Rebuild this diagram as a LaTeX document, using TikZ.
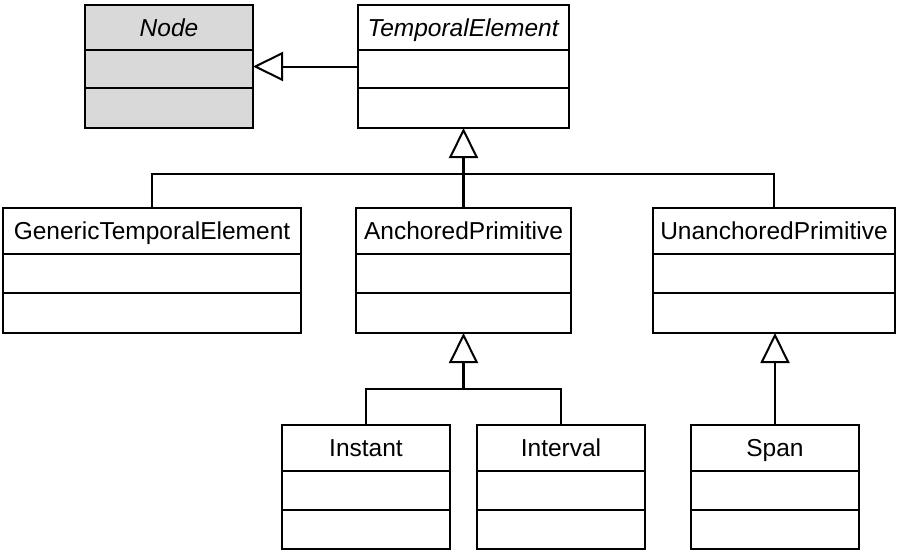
\documentclass[tikz,border=0pt]{standalone}
\usepackage{fontspec}
\setmainfont{Liberation Sans}
\usetikzlibrary{arrows.meta,calc}
\definecolor{nodegray}{HTML}{D9D9D9}
\tikzset{
  classbox/.style={draw, line width=2.5pt, rectangle, inner sep=0pt, outer sep=0pt, anchor=north west},
  abstractfill/.style={fill=nodegray},
  sepline/.style={line width=2pt},
  lbl/.style={anchor=base, inner sep=0pt, font=\fontsize{24.5}{29}\selectfont},
  gen/.style={line width=2pt, -{Triangle[open, length=30pt, width=29pt, line width=2pt]}},
  wire/.style={line width=2pt},
  trunk/.style={line width=2.8pt},
}
\newcommand{\umlclass}[9]{%
  \node[classbox, minimum width=#4pt, minimum height=#5pt, #9] (#1) at (#2,#3) {};
  \draw[sepline] ($(#1.north west)+(0,#6)$) -- ($(#1.north east)+(0,#6)$);
  \draw[sepline] ($(#1.north west)+(0,#7)$) -- ($(#1.north east)+(0,#7)$);
  \node[lbl] (#1-name) at ($(#1.north)+(0,{#6/2+8.5})$) {#8};
}
\begin{document}
\begin{tikzpicture}[x=1pt,y=-1pt]
\fill[white] (0,0) rectangle (900,552);
\useasboundingbox (0,0) rectangle (900,552);

\umlclass{Node}{85}{5}{168}{123}{45}{83}{\textit{Node}}{abstractfill}
\umlclass{TE}{358}{5}{211}{123}{45}{83}{\textit{TemporalElement}}{}
\umlclass{GTE}{3}{208}{298}{125}{46}{85}{GenericTemporalElement}{}
\umlclass{AP}{356}{208}{215}{125}{46}{85}{AnchoredPrimitive}{}
\umlclass{UP}{653}{208}{242}{125}{46}{85}{UnanchoredPrimitive}{}
\umlclass{Instant}{282}{425}{168}{124}{46}{85}{Instant}{}
\umlclass{Interval}{477}{425}{168}{124}{46}{85}{Interval}{}
\umlclass{Span}{691}{425}{168}{124}{46}{85}{Span}{}

\coordinate (j1) at ($(TE.south)+(0,46)$);
\coordinate (j2) at ($(AP.south)+(0,56)$);

\draw[gen] (TE.west) -- (Node.east);
\draw[wire] (GTE.north) |- (j1) -| (UP.north);
\draw[gen, trunk] (AP.north) -- (TE.south);

\draw[wire] (Instant.north) |- (j2) -| (Interval.north);
\draw[gen, trunk] (j2) -- (AP.south);

\draw[gen] (Span.north) -- (Span.north |- UP.south);
\end{tikzpicture}
\end{document}
